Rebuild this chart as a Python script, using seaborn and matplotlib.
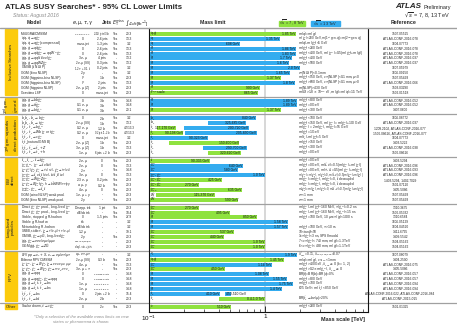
"""
ATLAS SUSY searches summary (status Aug 2016): 95% CL lower mass limits
"""

import numpy as np
import matplotlib
matplotlib.use("Agg")
import matplotlib.pyplot as plt
import matplotlib.transforms as mtransforms
from matplotlib.patches import Rectangle
from matplotlib.lines import Line2D
import seaborn as sns

W, H = 457, 328

# ---------------- data ----------------
section_names = ["Inclusive Searches", "3$^{rd}$ gen.\n$\\tilde{g}$ med.",
                 "3$^{rd}$ gen. squarks\ndirect production", "EW\ndirect",
                 "Long-lived\nparticles", "RPV", "Other"]
section_sizes = [13, 3, 8, 9, 9, 10, 1]

models = [
    "MSUGRA/CMSSM",
    r"$\tilde{q}\tilde{q},\,\tilde{q}\rightarrow q\tilde{\chi}^0_1$",
    r"$\tilde{q}\tilde{q},\,\tilde{q}\rightarrow q\tilde{\chi}^0_1$ (compressed)",
    r"$\tilde{g}\tilde{g},\,\tilde{g}\rightarrow q\bar{q}\tilde{\chi}^0_1$",
    r"$\tilde{g}\tilde{g},\,\tilde{g}\rightarrow q\bar{q}\tilde{\chi}^\pm_1\rightarrow qqW^\pm\tilde{\chi}^0_1$",
    r"$\tilde{g}\tilde{g},\,\tilde{g}\rightarrow qq(\ell\ell/\nu\nu)\tilde{\chi}^0_1$",
    r"$\tilde{g}\tilde{g},\,\tilde{g}\rightarrow qqWZ\tilde{\chi}^0_1$",
    r"GMSB ($\tilde{\ell}$ NLSP)",
    "GGM (bino NLSP)",
    "GGM (higgsino-bino NLSP)",
    "GGM (higgsino-bino NLSP)",
    "GGM (higgsino NLSP)",
    "Gravitino LSP",
    r"$\tilde{g}\tilde{g},\,\tilde{g}\rightarrow b\bar{b}\tilde{\chi}^0_1$",
    r"$\tilde{g}\tilde{g},\,\tilde{g}\rightarrow t\bar{t}\tilde{\chi}^0_1$",
    r"$\tilde{g}\tilde{g},\,\tilde{g}\rightarrow b\bar{t}\tilde{\chi}^+_1$",
    r"$\tilde{b}_1\tilde{b}_1,\,\tilde{b}_1\rightarrow b\tilde{\chi}^0_1$",
    r"$\tilde{b}_1\tilde{b}_1,\,\tilde{b}_1\rightarrow t\tilde{\chi}^\pm_1$",
    r"$\tilde{t}_1\tilde{t}_1,\,\tilde{t}_1\rightarrow b\tilde{\chi}^\pm_1$",
    r"$\tilde{t}_1\tilde{t}_1,\,\tilde{t}_1\rightarrow Wb\tilde{\chi}^0_1$ or $t\tilde{\chi}^0_1$",
    r"$\tilde{t}_1\tilde{t}_1,\,\tilde{t}_1\rightarrow c\tilde{\chi}^0_1$",
    r"$\tilde{t}_1\tilde{t}_1$(natural GMSB)",
    r"$\tilde{t}_2\tilde{t}_2,\,\tilde{t}_2\rightarrow\tilde{t}_1+Z$",
    r"$\tilde{t}_2\tilde{t}_2,\,\tilde{t}_2\rightarrow\tilde{t}_1+h$",
    r"$\tilde{\ell}_{L,R}\tilde{\ell}_{L,R},\,\tilde{\ell}\rightarrow\ell\tilde{\chi}^0_1$",
    r"$\tilde{\chi}^+_1\tilde{\chi}^-_1,\,\tilde{\chi}^+_1\rightarrow\tilde{\ell}\nu(\ell\tilde{\nu})$",
    r"$\tilde{\chi}^\pm_1\tilde{\chi}^\mp_1/\tilde{\chi}^0_2,\,\tilde{\chi}^+_1\rightarrow\tilde{\tau}\nu(\tau\tilde{\nu}),\,\tilde{\chi}^0_2\rightarrow\tilde{\tau}\tau(\nu\tilde{\nu})$",
    r"$\tilde{\chi}^\pm_1\tilde{\chi}^0_2\rightarrow\tilde{\ell}_L\nu\tilde{\ell}_L\ell(\tilde{\nu}\nu),\,\ell\tilde{\nu}\tilde{\ell}_L\ell(\tilde{\nu}\nu)$",
    r"$\tilde{\chi}^\pm_1\tilde{\chi}^0_2\rightarrow W\tilde{\chi}^0_1Z\tilde{\chi}^0_1$",
    r"$\tilde{\chi}^\pm_1\tilde{\chi}^0_2\rightarrow W\tilde{\chi}^0_1h\tilde{\chi}^0_1,\,h\rightarrow b\bar{b}/WW/\tau\tau/\gamma\gamma$",
    r"$\tilde{\chi}^0_2\tilde{\chi}^0_3,\,\tilde{\chi}^0_{2,3}\rightarrow\tilde{\ell}_R\ell$",
    "GGM (wino NLSP) weak prod.",
    "GGM (bino NLSP) weak prod.",
    r"Direct $\tilde{\chi}^+_1\tilde{\chi}^-_1$ prod., long-lived $\tilde{\chi}^\pm_1$",
    r"Direct $\tilde{\chi}^+_1\tilde{\chi}^-_1$ prod., long-lived $\tilde{\chi}^\pm_1$",
    r"Stable, stopped $\tilde{g}$ R-hadron",
    r"Stable $\tilde{g}$ R-hadron",
    r"Metastable $\tilde{g}$ R-hadron",
    r"GMSB, stable $\tilde{\tau},\,\tilde{\chi}^0_1\rightarrow\tilde{\tau}(\tilde{e},\tilde{\mu})+\tau(e,\mu)$",
    r"GMSB, $\tilde{\chi}^0_1\rightarrow\gamma\tilde{G}$, long-lived $\tilde{\chi}^0_1$",
    r"$\tilde{g}\tilde{g},\,\tilde{\chi}^0_1\rightarrow ee\nu/e\mu\nu/\mu\mu\nu$",
    r"GGM $\tilde{g}\tilde{g},\,\tilde{\chi}^0_1\rightarrow Z\tilde{G}$",
    r"LFV $pp\rightarrow\tilde{\nu}_\tau+X,\,\tilde{\nu}_\tau\rightarrow e\mu/e\tau/\mu\tau$",
    "Bilinear RPV CMSSM",
    r"$\tilde{\chi}^+_1\tilde{\chi}^-_1,\,\tilde{\chi}^+_1\rightarrow W\tilde{\chi}^0_1,\,\tilde{\chi}^0_1\rightarrow ee\nu,e\mu\nu,\mu\mu\nu$",
    r"$\tilde{\chi}^+_1\tilde{\chi}^-_1,\,\tilde{\chi}^+_1\rightarrow W\tilde{\chi}^0_1,\,\tilde{\chi}^0_1\rightarrow\tau\tau\nu_e,e\tau\nu_\tau$",
    r"$\tilde{g}\tilde{g},\,\tilde{g}\rightarrow qqq$",
    r"$\tilde{g}\tilde{g},\,\tilde{g}\rightarrow qq\tilde{\chi}^0_1,\,\tilde{\chi}^0_1\rightarrow qqq$",
    r"$\tilde{g}\tilde{g},\,\tilde{g}\rightarrow\tilde{t}_1t,\,\tilde{t}_1\rightarrow bs$",
    r"$\tilde{g}\tilde{g},\,\tilde{g}\rightarrow\tilde{t}_1t,\,\tilde{t}_1\rightarrow bs$",
    r"$\tilde{t}_1\tilde{t}_1,\,\tilde{t}_1\rightarrow bs$",
    r"$\tilde{t}_1\tilde{t}_1,\,\tilde{t}_1\rightarrow b\ell$",
    r"Scalar charm, $\tilde{c}\rightarrow c\tilde{\chi}^0_1$",
]

leptons = [
    r"0-3 $e,\mu$ /1-2 $\tau$", "0", "mono-jet", "0", "0", r"3 $e,\mu$", r"2 $e,\mu$ (SS)",
    r"1-2 $\tau$ + 0-1 $\ell$", r"2 $\gamma$", r"$\gamma$", r"$\gamma$", r"2 $e,\mu$ (Z)", "0",
    "0", r"0-1 $e,\mu$", r"0-1 $e,\mu$",
    "0", r"2 $e,\mu$ (SS)", r"0-2 $e,\mu$", r"0-2 $e,\mu$", "0", r"2 $e,\mu$ (Z)", r"3 $e,\mu$ (Z)", r"1 $e,\mu$",
    r"2 $e,\mu$", r"2 $e,\mu$", r"2 $\tau$", r"3 $e,\mu$", r"2-3 $e,\mu$", r"$e,\mu,\gamma$", r"4 $e,\mu$",
    r"1 $e,\mu$ + $\gamma$", r"2 $\gamma$",
    "Disapp. trk", "dE/dx trk", "0", "trk", "dE/dx trk", r"1-2 $\mu$", r"2 $\gamma$",
    r"displ. $ee/e\mu/\mu\mu$", "displ. vtx + jets",
    r"$e\mu,e\tau,\mu\tau$", r"2 $e,\mu$ (SS)", r"4 $e,\mu$", r"3 $e,\mu$ + $\tau$", "0", "0",
    r"1 $e,\mu$", r"1 $e,\mu$", "0", r"2 $e,\mu$",
    "0",
]

jets = [
    "2-10 jets/3 $b$", "2-6 jets", "1-3 jets", "2-6 jets", "2-6 jets", "4 jets", "0-3 jets",
    "0-2 jets", "-", "1 $b$", "2 jets", "2 jets", "mono-jet",
    "3 $b$", "3 $b$", "3 $b$",
    "2 $b$", "1 $b$", "1-2 $b$", "0-2 jets/1-2 $b$", "mono-jet", "1 $b$", "1 $b$", "6 jets + 2 $b$",
    "0", "0", "-", "0", "0-2 jets", "0-2 $b$", "0", "-", "-",
    "1 jet", "-", "1-5 jets", "-", "-", "-", "-", "-", "-",
    "-", "0-3 $b$", "-", "-", "4-5 large-$R$ jets", "4-5 large-$R$ jets",
    "8-10 jets/0-4 $b$", "8-10 jets/0-4 $b$", "2 jets + 2 $b$", "2 $b$",
    "2 $c$",
]

met = (["Yes"] * 5 + ["-"] + ["Yes"] * 7
       + ["Yes"] * 3
       + ["Yes"] * 8
       + ["Yes"] * 9
       + ["Yes", "Yes", "Yes", "-", "-", "-", "Yes", "-", "-"]
       + ["-", "Yes", "Yes", "Yes", "-", "-", "-", "-", "-", "-"]
       + ["Yes"])

lumi = [
    "20.3", "13.3", "3.2", "13.3", "13.3", "13.2", "13.2", "3.2", "3.2", "20.3", "13.3", "20.3", "20.3",
    "14.8", "14.8", "20.1",
    "3.2", "13.2", "4.7/13.3", "4.7/13.3", "3.2", "20.3", "13.3", "20.3",
    "20.3", "13.3", "14.8", "13.3", "20.3", "20.3", "20.3", "20.3", "20.3",
    "20.3", "18.4", "27.9", "3.2", "3.2", "19.1", "20.3", "20.3", "20.3",
    "3.2", "20.3", "13.3", "20.3", "14.8", "14.8", "14.8", "14.8", "15.4", "20.3",
    "20.3",
]

particles = (
    [r"$\tilde{q},\tilde{g}$", r"$\tilde{q}$", r"$\tilde{q}$"] + [r"$\tilde{g}$"] * 9 + [r"$F^{1/2}$ scale"]
    + [r"$\tilde{g}$"] * 3
    + [r"$\tilde{b}_1$"] * 2 + [r"$\tilde{t}_1$"] * 4 + [r"$\tilde{t}_2$"] * 2
    + [r"$\tilde{\ell}$", r"$\tilde{\chi}^\pm_1$", r"$\tilde{\chi}^\pm_1$"]
    + [r"$\tilde{\chi}^\pm_1,\tilde{\chi}^0_2$"] * 3 + [r"$\tilde{\chi}^0_{2,3}$", r"$\tilde{W}$", r"$\tilde{W}$"]
    + [r"$\tilde{\chi}^\pm_1$"] * 2 + [r"$\tilde{g}$"] * 3 + [r"$\tilde{\chi}^0_1$"] * 4
    + [r"$\tilde{\nu}_\tau$", r"$\tilde{q},\tilde{g}$", r"$\tilde{\chi}^\pm_1$", r"$\tilde{\chi}^\pm_1$"]
    + [r"$\tilde{g}$"] * 4 + [r"$\tilde{t}_1$"] * 2
    + [r"$\tilde{c}$"]
)

conditions = [
    r"$m(\tilde{q})$=$m(\tilde{g})$",
    r"$m(\tilde{\chi}^0_1)$<200 GeV, $m$(1$^{st}$ gen. $\tilde{q}$)=$m$(2$^{nd}$ gen. $\tilde{q}$)",
    r"$m(\tilde{q})$-$m(\tilde{\chi}^0_1)$<5 GeV",
    r"$m(\tilde{\chi}^0_1)$<200 GeV",
    r"$m(\tilde{\chi}^0_1)$<400 GeV, $m(\tilde{\chi}^\pm)$=0.5($m(\tilde{\chi}^0_1)$+$m(\tilde{g})$)",
    r"$m(\tilde{\chi}^0_1)$<400 GeV",
    r"$m(\tilde{\chi}^0_1)$<500 GeV",
    "",
    r"$c\tau$(NLSP)<0.1 mm",
    r"$m(\tilde{\chi}^0_1)$<950 GeV, $c\tau$(NLSP)<0.1 mm, $\mu$<0",
    r"$m(\tilde{\chi}^0_1)$>680 GeV, $c\tau$(NLSP)<0.1 mm, $\mu$>0",
    r"$m$(NLSP)>430 GeV",
    r"$m(\tilde{G})$>1.8 $\times$ 10$^{-4}$ eV, $m(\tilde{g})$=$m(\tilde{q})$=1.5 TeV",
    r"$m(\tilde{\chi}^0_1)$<800 GeV",
    r"$m(\tilde{\chi}^0_1)$=0 GeV",
    r"$m(\tilde{\chi}^0_1)$<300 GeV",
    r"$m(\tilde{\chi}^0_1)$<100 GeV",
    r"$m(\tilde{\chi}^0_1)$<150 GeV, $m(\tilde{\chi}^\pm_1)$= $m(\tilde{\chi}^0_1)$+100 GeV",
    r"$m(\tilde{\chi}^\pm_1)$ = 2$m(\tilde{\chi}^0_1)$, $m(\tilde{\chi}^0_1)$=55 GeV",
    r"$m(\tilde{\chi}^0_1)$=1 GeV",
    r"$m(\tilde{t}_1)$-$m(\tilde{\chi}^0_1)$=5 GeV",
    r"$m(\tilde{\chi}^0_1)$>150 GeV",
    r"$m(\tilde{\chi}^0_1)$<300 GeV",
    r"$m(\tilde{\chi}^0_1)$=0 GeV",
    r"$m(\tilde{\chi}^0_1)$=0 GeV",
    r"$m(\tilde{\chi}^0_1)$=0 GeV, $m(\tilde{\ell},\tilde{\nu})$=0.5($m(\tilde{\chi}^\pm_1)$+$m(\tilde{\chi}^0_1)$)",
    r"$m(\tilde{\chi}^0_1)$=0 GeV, $m(\tilde{\tau},\tilde{\nu})$=0.5($m(\tilde{\chi}^\pm_1)$+$m(\tilde{\chi}^0_1)$)",
    r"$m(\tilde{\chi}^\pm_1)$=$m(\tilde{\chi}^0_2)$, $m(\tilde{\chi}^0_1)$=0, $m(\tilde{\ell},\tilde{\nu})$=0.5($m(\tilde{\chi}^\pm_1)$+$m(\tilde{\chi}^0_1)$)",
    r"$m(\tilde{\chi}^\pm_1)$=$m(\tilde{\chi}^0_2)$, $m(\tilde{\chi}^0_1)$=0, $\tilde{\ell}$ decoupled",
    r"$m(\tilde{\chi}^\pm_1)$=$m(\tilde{\chi}^0_2)$, $m(\tilde{\chi}^0_1)$=0, $\tilde{\ell}$ decoupled",
    r"$m(\tilde{\chi}^0_2)$=$m(\tilde{\chi}^0_3)$, $m(\tilde{\chi}^0_1)$=0, $m(\tilde{\ell},\tilde{\nu})$=0.5($m(\tilde{\chi}^0_2)$+$m(\tilde{\chi}^0_1)$)",
    r"$c\tau$<1 mm",
    r"$c\tau$<1 mm",
    r"$m(\tilde{\chi}^\pm_1)$-$m(\tilde{\chi}^0_1)$~160 MeV, $\tau(\tilde{\chi}^\pm_1)$=0.2 ns",
    r"$m(\tilde{\chi}^\pm_1)$-$m(\tilde{\chi}^0_1)$~160 MeV, $\tau(\tilde{\chi}^\pm_1)$<15 ns",
    r"$m(\tilde{\chi}^0_1)$=100 GeV, 10 $\mu$s<$\tau(\tilde{g})$<1000 s",
    "",
    r"$m(\tilde{\chi}^0_1)$=100 GeV, $\tau$>10 ns",
    r"10<tan$\beta$<50",
    r"1<$\tau(\tilde{\chi}^0_1)$<3 ns, SPS8 model",
    r"7 <$c\tau(\tilde{\chi}^0_1)$< 740 mm, $m(\tilde{g})$=1.3 TeV",
    r"6 <$c\tau(\tilde{\chi}^0_1)$< 480 mm, $m(\tilde{g})$=1.1 TeV",
    r"$\lambda^\prime_{311}$=0.11, $\lambda_{132/133/233}$=0.07",
    r"$m(\tilde{q})$=$m(\tilde{g})$, $c\tau_{LSP}$<1 mm",
    r"$m(\tilde{\chi}^0_1)$>400GeV, $\lambda_{12k}\neq0$ ($k$ = 1, 2)",
    r"$m(\tilde{\chi}^0_1)$>0.2$\times m(\tilde{\chi}^\pm_1)$, $\lambda_{133}\neq0$",
    "BR($t$)=BR($b$)=BR($c$)=0%",
    r"$m(\tilde{\chi}^0_1)$=800 GeV",
    r"$m(\tilde{\chi}^0_1)$=700 GeV",
    r"625 GeV< $m(\tilde{t}_1)$< 850 GeV",
    "",
    r"BR($\tilde{t}_1\rightarrow be/\mu$)>20%",
    r"$m(\tilde{\chi}^0_1)$<200 GeV",
]

references = [
    "1507.05525", "ATLAS-CONF-2016-078", "1604.07773", "ATLAS-CONF-2016-078", "ATLAS-CONF-2016-078",
    "ATLAS-CONF-2016-037", "ATLAS-CONF-2016-037", "1607.05979", "1606.09150", "1507.05493",
    "ATLAS-CONF-2016-066", "1503.03290", "1502.01518",
    "ATLAS-CONF-2016-052", "ATLAS-CONF-2016-052", "1407.0600",
    "1606.08772", "ATLAS-CONF-2016-037", "1209.2102, ATLAS-CONF-2016-077", "1506.08616, ATLAS-CONF-2016-077",
    "1604.07773", "1403.5222", "ATLAS-CONF-2016-038", "1506.08616",
    "1403.5294", "ATLAS-CONF-2016-096", "ATLAS-CONF-2016-093", "ATLAS-CONF-2016-096", "1403.5294, 1402.7029",
    "1501.07110", "1405.5086", "1507.05493", "1507.05493",
    "1310.3675", "1506.05332", "1310.6584", "1606.05129", "1604.04520", "1411.6795", "1409.5542",
    "1504.05162", "1504.05162",
    "1607.08079", "1404.2500", "ATLAS-CONF-2016-075", "1405.5086", "ATLAS-CONF-2016-057",
    "ATLAS-CONF-2016-057", "ATLAS-CONF-2016-094", "ATLAS-CONF-2016-094",
    "ATLAS-CONF-2016-022, ATLAS-CONF-2016-084", "ATLAS-CONF-2015-015",
    "1501.01325",
]

# one entry per bar: row, lower / upper limit [TeV] (None = from zero), label, sqrt(s) group
bar_row = [0, 1, 2, 3, 4, 5, 6, 7, 8, 9, 10, 11, 12,
           13, 14, 15,
           16, 17, 18, 18, 19, 19, 20, 21, 22, 23,
           24, 25, 26, 27, 28, 29, 30, 31, 32,
           33, 34, 35, 36, 37, 38, 39, 40, 41,
           42, 43, 44, 45, 46, 47, 48, 49, 50, 50, 51,
           52]
bar_low = [None] * 13 + [None] * 3 + [
    None, 0.325, 0.117, 0.200, 0.090, 0.205, 0.090, 0.150, 0.290, 0.320,
    0.090, None, None, None, None, None, None, 0.115, None,
    None, None, None, None, None, None, None, None, None,
    None, None, None, None, None, None, None, None, None, 0.450, 0.40,
    None]
bar_high = [1.85, 1.35, 0.608, 1.86, 1.83, 1.7, 1.6, 2.0, 1.65, 1.37, 1.8, 0.90, 0.865,
            1.89, 1.89, 1.37,
            0.84, 0.685, 0.170, 0.720, 0.198, 0.850, 0.323, 0.600, 0.700, 0.620,
            0.335, 0.640, 0.580, 1.0, 0.425, 0.270, 0.635, 0.370, 0.590,
            0.270, 0.495, 0.850, 1.58, 1.57, 0.537, 0.440, 1.0, 1.0,
            1.9, 1.45, 1.14, 0.450, 1.08, 1.55, 1.75, 1.4, 0.410, 0.510, 1.0,
            0.510]
bar_label = ["1.85 TeV", "1.35 TeV", "608 GeV", "1.86 TeV", "1.83 TeV", "1.7 TeV", "1.6 TeV",
             "2.0 TeV", "1.65 TeV", "1.37 TeV", "1.8 TeV", "900 GeV", "865 GeV",
             "1.89 TeV", "1.89 TeV", "1.37 TeV",
             "840 GeV", "325-685 GeV", "117-170 GeV", "200-720 GeV", "90-198 GeV", "205-850 GeV",
             "90-323 GeV", "150-600 GeV", "290-700 GeV", "320-620 GeV",
             "90-335 GeV", "640 GeV", "580 GeV", "1.0 TeV", "425 GeV", "270 GeV", "635 GeV",
             "115-370 GeV", "590 GeV",
             "270 GeV", "495 GeV", "850 GeV", "1.58 TeV", "1.57 TeV", "537 GeV", "440 GeV",
             "1.0 TeV", "1.0 TeV",
             "1.9 TeV", "1.45 TeV", "1.14 TeV", "450 GeV", "1.08 TeV", "1.55 TeV", "1.75 TeV",
             "1.4 TeV", "410 GeV", "450-510 GeV", "0.4-1.0 TeV",
             "510 GeV"]
bar_energy = [8, 13, 13, 13, 13, 13, 13, 13, 13, 8, 13, 8, 8,
              13, 13, 8,
              13, 13, 8, 13, 8, 13, 13, 8, 13, 8,
              8, 13, 13, 13, 8, 8, 8, 8, 8,
              8, 8, 8, 13, 13, 8, 8, 8, 8,
              13, 8, 13, 8, 13, 13, 13, 13, 13, 13, 8,
              8]

# ---------------- style ----------------
sns.set_theme(style="white")
plt.rcParams["font.family"] = ["Liberation Sans", "DejaVu Sans"]
plt.rcParams["mathtext.fontset"] = "dejavusans"

GREEN = "#8fe23f"
BLUE = "#34acef"
YELLOW = "#fccb0c"
SEP = "#a0a0a0"
energy_color = {8: GREEN, 13: BLUE}
FS = 2.3

fig = plt.figure(figsize=(W / 100, H / 100), dpi=100)
fig.patch.set_facecolor("white")
ax = fig.add_axes([149 / W, 1 - 312 / H, 219 / W, 284 / H])

# row positions, with a little gap between sections
GAP = 0.65
sec_of_row = np.repeat(np.arange(len(section_sizes)), section_sizes)
row_y = np.arange(sec_of_row.size) + GAP * sec_of_row
y_top = -1.23
y_bot = row_y[-1] + 1.07

xmin, xmax = 0.1, 7.7
ax.set_xscale("log")
ax.set_xlim(xmin, xmax)
ax.set_ylim(y_bot, y_top)
ax.axvline(1.0, color="#d4d4d4", lw=1.3, zorder=0)

bar_texts = []
seen_rows = set()
for r, lo, hi, lab, e in zip(bar_row, bar_low, bar_high, bar_label, bar_energy):
    left = xmin if lo is None else max(lo, xmin)
    ax.barh(row_y[r], hi - left, left=left, height=0.82, color=energy_color[e],
            edgecolor="none", zorder=2)
    t = ax.text(hi / 1.012, row_y[r], lab, ha="right", va="center", fontsize=2.4,
                color="#111111", zorder=3)
    # second bar of a row: label may start at the bar instead
    bar_texts.append((t, left, hi, r in seen_rows))
    seen_rows.add(r)

for y, p in zip(row_y, particles):
    ax.text(0.102, y, p, ha="left", va="center", fontsize=2.3, color="#111111", zorder=3)

# table columns (x in figure pixels, y in row units)
tr = mtransforms.blended_transform_factory(fig.transFigure, ax.transData)


def px(x):
    return x / W


fitted = []   # (text, max width in px)
for i, y in enumerate(row_y):
    kw = dict(transform=tr, va="center", fontsize=FS, clip_on=False)
    fitted.append((ax.text(px(20.7), y, models[i], ha="left", **kw), 51))
    fitted.append((ax.text(px(83), y, leptons[i], ha="center", **kw), 17))
    fitted.append((ax.text(px(102), y, jets[i], ha="center", **kw), 17))
    ax.text(px(116), y, met[i], ha="center", **kw)
    fitted.append((ax.text(px(129), y, lumi[i], ha="center", **kw), 11))
    fitted.append((ax.text(px(298), y, conditions[i], ha="left", **kw), 66))
    fitted.append((ax.text(px(400), y, references[i], ha="center", **kw), 70))

# section separators and yellow labels
starts = np.cumsum([0] + section_sizes[:-1])
ends = np.cumsum(section_sizes) - 1
for k, (s, e) in enumerate(zip(starts, ends)):
    top = y_top if k == 0 else (row_y[s - 1] + row_y[s]) / 2
    bot = y_bot if k == len(section_sizes) - 1 else (row_y[e] + row_y[e + 1]) / 2
    if k < len(section_sizes) - 1:
        ax.add_line(Line2D([0, 1], [bot, bot], transform=tr, color=SEP, lw=0.9, clip_on=False))
    if section_names[k] == "Other":
        ax.add_patch(Rectangle((px(5), row_y[s] - 0.55), px(12), 1.1, transform=tr,
                               color=YELLOW, clip_on=False))
        ax.text(px(11), row_y[s], "Other", transform=tr, ha="center", va="center",
                fontsize=3.0, color="#222222", clip_on=False)
    else:
        ax.add_patch(Rectangle((px(5), top + 0.3), px(12), bot - top - 0.6, transform=tr,
                               color=YELLOW, clip_on=False))
        ax.text(px(11), (top + bot) / 2, section_names[k], transform=tr, ha="center", va="center",
                rotation=90, fontsize=3.2, color="#222222", linespacing=1.0,
                multialignment="center", clip_on=False)

# axes frame and ticks
for side in ["left", "right", "bottom"]:
    ax.spines[side].set_visible(True)
    ax.spines[side].set_color("#111111")
    ax.spines[side].set_linewidth(0.8)
ax.spines["top"].set_visible(False)
ax.set_yticks([])
ax.set_xticks([0.1, 1])
ax.set_xticklabels([r"10$^{-1}$", "1"])
ax.tick_params(axis="x", which="major", bottom=True, direction="in", length=4, width=0.6,
               labelsize=4.5, pad=1.5, colors="#111111")
ax.tick_params(axis="x", which="minor", bottom=True, direction="in", length=2, width=0.5)

fig.add_artist(Line2D([0, 1], [1 - 28 / H] * 2, color=SEP, lw=1.0))

# header texts
fig.text(px(5), 1 - 7.5 / H, "ATLAS SUSY Searches* - 95% CL Lower Limits", ha="left", va="center",
         fontsize=5.7, fontweight="bold")
fig.text(px(13), 1 - 15 / H, "Status: August 2016", ha="left", va="center", fontsize=3.7,
         style="italic", color="#8a8a8a")
fig.text(px(421), 1 - 7 / H, "ATLAS", ha="right", va="center", fontsize=5.8,
         fontweight="bold", style="italic")
fig.text(px(423), 1 - 7 / H, "Preliminary", ha="left", va="center", fontsize=4.0)
fig.text(px(450), 1 - 15 / H, r"$\sqrt{s}$ = 7, 8, 13 TeV", ha="right", va="center", fontsize=4.0)

hy = 1 - 23 / H
fig.text(px(34), hy, "Model", ha="center", va="center", fontsize=3.6, fontweight="bold")
fig.text(px(83), hy, r"$e, \mu, \tau, \gamma$", ha="center", va="center", fontsize=3.6)
fig.text(px(107), hy, "Jets", ha="center", va="center", fontsize=3.6, fontweight="bold")
fig.text(px(119), hy, r"$E_{\mathrm{T}}^{\mathrm{miss}}$", ha="center", va="center", fontsize=3.6)
fig.text(px(137), hy, r"$\int\mathcal{L}\,dt$[fb$^{-1}$]", ha="center", va="center", fontsize=3.2)
fig.text(px(213), hy, "Mass limit", ha="center", va="center", fontsize=3.8, fontweight="bold")
fig.text(px(404), hy, "Reference", ha="center", va="center", fontsize=3.8, fontweight="bold")

fig.add_artist(Rectangle((px(279), 1 - 26 / H), px(26), 5.5 / H, color=GREEN))
fig.add_artist(Rectangle((px(311), 1 - 26 / H), px(29), 5.5 / H, color=BLUE))
fig.text(px(292), 1 - 23.2 / H, r"$\sqrt{s}$ = 7, 8 TeV", ha="center", va="center", fontsize=2.8)
fig.text(px(325.5), 1 - 23.2 / H, r"$\sqrt{s}$ = 13 TeV", ha="center", va="center", fontsize=2.8)

fig.text(px(365), 1 - 319 / H, "Mass scale [TeV]", ha="right", va="center", fontsize=4.0,
         fontweight="bold")
fig.text(px(81), 1 - 319.5 / H,
         "*Only a selection of the available mass limits on new\nstates or phenomena is shown.",
         ha="center", va="center", fontsize=3.0, style="italic", color="#8a8a8a",
         multialignment="center", linespacing=1.2)

# shrink table texts that are wider than their column
fig.canvas.draw()
renderer = fig.canvas.get_renderer()
for t, max_w in fitted:
    if not t.get_text():
        continue
    w = t.get_window_extent(renderer).width
    if w > max_w:
        t.set_fontsize(t.get_fontsize() * max_w / w)

# a narrow second bar in a row gets its label starting at the bar
for t, left, hi, second in bar_texts:
    if not second:
        continue
    x0 = ax.transData.transform((left, 0))[0]
    x1 = ax.transData.transform((hi, 0))[0]
    if t.get_window_extent(renderer).width > x1 - x0:
        t.set_position((left * 1.02, t.get_position()[1]))
        t.set_ha("left")

fig.savefig("out.png", dpi=100, facecolor="white")
